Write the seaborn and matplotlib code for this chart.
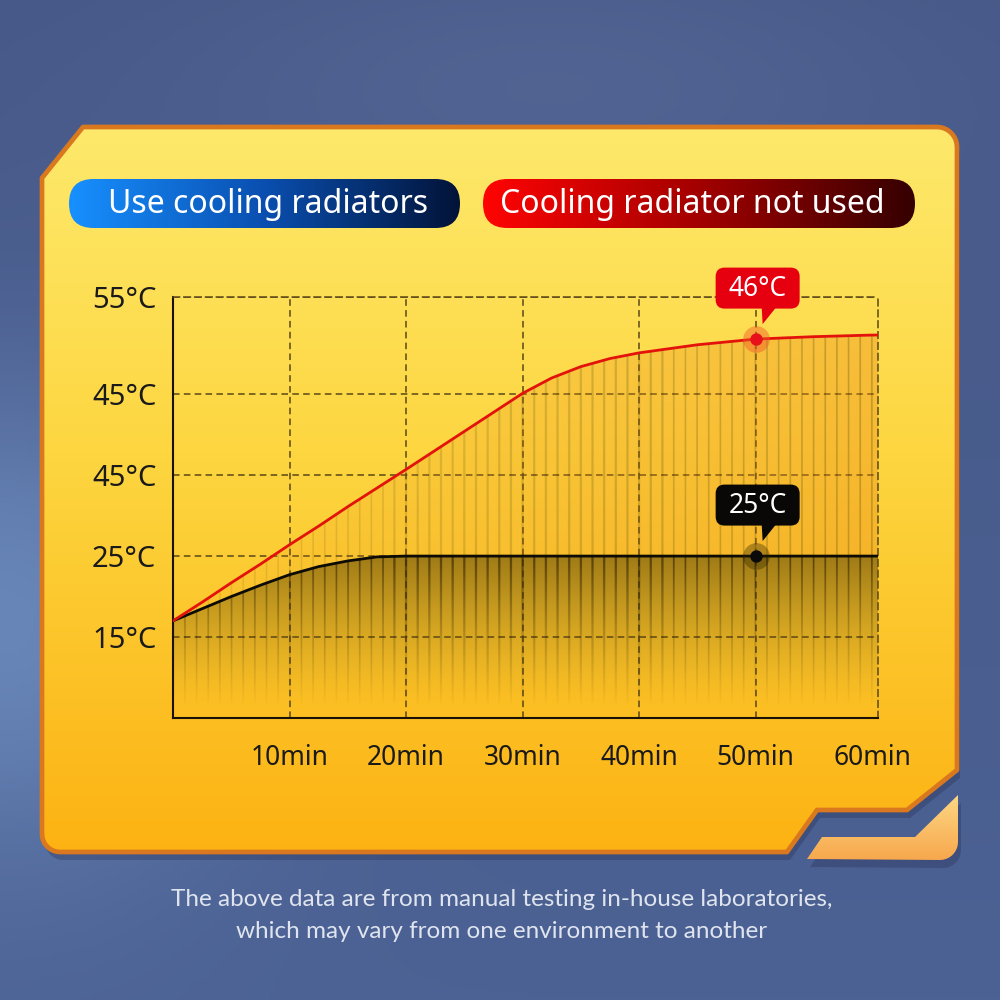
import numpy as np
import matplotlib
matplotlib.use("Agg")
import matplotlib.pyplot as plt
import seaborn as sns
import pandas as pd
from matplotlib.patches import Polygon, FancyBboxPatch
from matplotlib.colors import LinearSegmentedColormap, to_rgb

# ---------------- data ----------------
minutes = [0, 2.5, 5, 7.5, 10, 12.5, 15, 17.5, 20, 25, 30, 32.5, 35, 37.5, 40, 45, 50, 55, 60, 60.5]
with_radiator = [17.0, 18.5, 20.0, 21.4, 22.7, 23.7, 24.4, 24.9, 25.0, 25.0, 25.0, 25.0, 25.0,
                 25.0, 25.0, 25.0, 25.0, 25.0, 25.0, 25.0]
without_radiator = [17.0, 19.3, 21.7, 24.0, 26.4, 28.7, 31.1, 33.4, 35.7, 40.4, 45.1, 47.0, 48.4,
                    49.4, 50.1, 51.1, 51.8, 52.1, 52.3, 52.3]

x_tick_values = [10, 20, 30, 40, 50, 60]
x_tick_labels = ["10min", "20min", "30min", "40min", "50min", "60min"]
y_tick_values = [15, 25, 35, 45, 57]
y_tick_labels = ["15°C", "25°C", "45°C", "45°C", "55°C"]

legend_labels = ["Use cooling radiators", "Cooling radiator not used"]
callout_minute = 50
callout_red_value = 51.8
callout_black_value = 25.0
callout_red_text = "46°C"
callout_black_text = "25°C"
footer_lines = ["The above data are from manual testing in-house laboratories,",
                "which may vary from one environment to another"]

# ---------------- setup ----------------
sns.set_style("white")
plt.rcParams['font.family'] = ['Noto Sans', 'DejaVu Sans']

fig = plt.figure(figsize=(10, 10), dpi=100)

# background axes in pixel coordinates (y down)
bg = fig.add_axes([0, 0, 1, 1], zorder=0)
bg.set_xlim(0, 1000)
bg.set_ylim(1000, 0)
bg.axis('off')

# page background gradient
H, W = 300, 300
yy, xx = np.mgrid[0:1:H * 1j, 0:1:W * 1j]
top = np.array([70, 88, 135]) / 255
bot = np.array([76, 98, 148]) / 255
img = top[None, None, :] * (1 - yy[..., None]) + bot[None, None, :] * yy[..., None]
glow = np.exp(-(((xx - 0.0) ** 2) / 0.06 + ((yy - 0.62) ** 2) / 0.06))
light = np.array([125, 160, 212]) / 255
img = img * (1 - 0.6 * glow[..., None]) + light * 0.6 * glow[..., None]
glow2 = np.exp(-(((xx - 0.55) ** 2) / 0.15 + ((yy - 0.08) ** 2) / 0.02))
img = img * (1 - 0.25 * glow2[..., None]) + np.array([110, 130, 175]) / 255 * 0.25 * glow2[..., None]
bg.imshow(img, extent=[0, 1000, 1000, 0], origin='upper', aspect='auto', zorder=0)


def arc(cx, cy, r, a0, a1, n=10):
    a = np.radians(np.linspace(a0, a1, n))
    return [(cx + r * np.cos(t), cy + r * np.sin(t)) for t in a]


panel_pts = ([(83, 127)] + arc(937, 147, 20, -90, 0) +
             [(957, 770), (907, 810), (817, 810), (787, 852)] +
             arc(60, 834, 18, 90, 180) + [(42, 178)])
tab_pts = ([(807, 859), (822, 837), (915, 837), (958, 795)] +
           arc(940, 842, 18, 0, 90))

# shadows
for pts in (panel_pts, tab_pts):
    sh = Polygon([(x + 3, y + 8) for x, y in pts], closed=True, fc=(0.1, 0.12, 0.25, 0.25),
                 ec='none', zorder=1)
    bg.add_patch(sh)

panel_cmap = LinearSegmentedColormap.from_list(
    'panel', [(0, '#fee96c'), (0.45, '#fdd640'), (1, '#fcb212')])
panel_img = panel_cmap(np.linspace(0, 1, 256))[:, None, :]
panel_patch = Polygon(panel_pts, closed=True, fc='none', ec='none', zorder=2)
bg.add_patch(panel_patch)
im = bg.imshow(panel_img, extent=[40, 960, 855, 125], origin='upper', aspect='auto', zorder=2)
im.set_clip_path(panel_patch)
bg.add_patch(Polygon(panel_pts, closed=True, fc='none', ec='#d9781e', lw=3.4, zorder=3,
                     joinstyle='round'))

tab_cmap = LinearSegmentedColormap.from_list('tab', [(0, '#fdd985'), (1, '#f7a64c')])
tab_patch = Polygon(tab_pts, closed=True, fc='none', ec='none', zorder=2)
bg.add_patch(tab_patch)
im2 = bg.imshow(tab_cmap(np.linspace(0, 1, 64))[:, None, :], extent=[805, 960, 862, 793],
                origin='upper', aspect='auto', zorder=2)
im2.set_clip_path(tab_patch)

# legend pills
pill_specs = [
    (69, 179, 391, 49, ['#1790ff', '#0a4fb0', '#021338'], legend_labels[0], 268),
    (483, 179, 432, 49, ['#ff0404', '#a30000', '#350002'], legend_labels[1], 692),
]
for x0, y0, w, h, cols, label, tx in pill_specs:
    p = FancyBboxPatch((x0, y0), w, h, boxstyle=f"round,pad=0,rounding_size={h / 2}",
                       fc='none', ec='none', zorder=4)
    bg.add_patch(p)
    cm = LinearSegmentedColormap.from_list('pill', cols)
    gi = bg.imshow(cm(np.linspace(0, 1, 256))[None, :, :], extent=[x0, x0 + w, y0 + h, y0],
                   origin='upper', aspect='auto', zorder=4)
    gi.set_clip_path(p)
    bg.text(tx, y0 + h / 2 + 1, label, color='white', fontsize=23,
            ha='center', va='center', zorder=5)

# footer
for i, line in enumerate(footer_lines):
    bg.text(502, 899 + i * 32, line, color='#dfe4ee', fontsize=17.5, ha='center',
            va='center', family=['Lato', 'DejaVu Sans'], zorder=5)

# ---------------- main chart ----------------
ax = fig.add_axes([0.173, 0.282, 0.705, 0.421], zorder=5)
ax.set_facecolor('none')
ax.set_xlim(0, 60.5)
ax.set_ylim(5, 57)

df = pd.DataFrame({'minute': minutes, 'with': with_radiator, 'without': without_radiator})

# gradient + stripe fills
Nx, Ny = 1210, 260
xs = np.linspace(0, 60.5, Nx)
ys = np.linspace(5, 57, Ny)
XX, YY = np.meshgrid(xs, ys)
stripe = (np.abs(((XX + 0.5) % 1.0) - 0.5) < 0.085).astype(float)

# red-area fill (between the lines)
red_poly = ax.fill_between(minutes, with_radiator, without_radiator, color='none', lw=0)
ra = 0.06 + 0.34 * (XX / 60.5)
rgba_r = np.zeros((Ny, Nx, 4))
orange = np.array(to_rgb('#ee8f1a'))
brown = np.array(to_rgb('#8a5a08'))
rgba_r[..., :3] = orange * (1 - stripe[..., None]) + brown * stripe[..., None]
rgba_r[..., 3] = ra + stripe * 0.10
imr = ax.imshow(np.clip(rgba_r, 0, 1), extent=[0, 60.5, 5, 57], origin='lower',
                aspect='auto', zorder=1, interpolation='antialiased')
imr.set_clip_path(red_poly.get_paths()[0], ax.transData)

# black-area fill (under the black line)
blk_poly = ax.fill_between(minutes, 5, with_radiator, color='none', lw=0)
f = np.clip((YY - 6.5) / (25 - 6.5), 0, 1)
rgba_b = np.zeros((Ny, Nx, 4))
dark = np.array(to_rgb('#6a4c06'))
darker = np.array(to_rgb('#3e2c02'))
rgba_b[..., :3] = dark * (1 - stripe[..., None]) + darker * stripe[..., None]
rgba_b[..., 3] = 0.64 * f ** 1.3 + stripe * 0.24 * f ** 0.6
imb = ax.imshow(np.clip(rgba_b, 0, 1), extent=[0, 60.5, 5, 57], origin='lower',
                aspect='auto', zorder=1, interpolation='antialiased')
imb.set_clip_path(blk_poly.get_paths()[0], ax.transData)

# grid
grid_col = '#5a4718'
dash = (0, (4.3, 2.8))
ax.set_xticks(x_tick_values)
ax.set_xticklabels(x_tick_labels)
ax.set_yticks(y_tick_values)
ax.set_yticklabels(y_tick_labels)
ax.grid(True, color=grid_col, linestyle=dash, lw=1.1, zorder=0.5)
ax.xaxis.get_gridlines()[-1].set_visible(False)
ax.set_axisbelow(True)
for s in ('top', 'right'):
    ax.spines[s].set_color(grid_col)
    ax.spines[s].set_linestyle(dash)
    ax.spines[s].set_linewidth(1.1)
for s in ('left', 'bottom'):
    ax.spines[s].set_color('#1a1208')
    ax.spines[s].set_linewidth(1.5)
ax.tick_params(axis='both', length=0, colors='#1a1a1a')
ax.tick_params(axis='y', pad=12, labelsize=21)
ax.tick_params(axis='x', pad=19, labelsize=19)

# lines
sns.lineplot(data=df, x='minute', y='with', ax=ax, color='#0d0b05', lw=2.0, zorder=3)
sns.lineplot(data=df, x='minute', y='without', ax=ax, color='#e3130c', lw=2.0, zorder=3)
ax.set_xlabel('')
ax.set_ylabel('')

# highlight markers
ax.scatter([callout_minute], [callout_red_value], s=370, color='#f05a28', alpha=0.45,
           zorder=4, lw=0)
ax.scatter([callout_minute], [callout_red_value], s=80, color='#e8101a', zorder=5, lw=0)
ax.scatter([callout_minute], [callout_black_value], s=370, color='#2a2200', alpha=0.35,
           zorder=4, lw=0)
ax.scatter([callout_minute], [callout_black_value], s=80, color='#0a0a0a', zorder=5, lw=0)

# callouts (overlay axes in pixel coords)
fg = fig.add_axes([0, 0, 1, 1], zorder=10)
fg.set_xlim(0, 1000)
fg.set_ylim(1000, 0)
fg.axis('off')
fg.patch.set_alpha(0)


def to_px(x, y):
    dx, dy = ax.transData.transform((x, y))
    return dx * 1000 / fig.bbox.width, 1000 - dy * 1000 / fig.bbox.height


for val, txt, col in [(callout_red_value, callout_red_text, '#e6000f'),
                      (callout_black_value, callout_black_text, '#0a0806')]:
    px, py = to_px(callout_minute, val)
    bw, bh = 84, 41
    cx, cy = px + 2, py - 51
    fg.add_patch(FancyBboxPatch((cx - bw / 2, cy - bh / 2), bw, bh,
                                boxstyle="round,pad=0,rounding_size=9", fc=col, ec='none',
                                zorder=1))
    fg.add_patch(Polygon([(px + 6, cy + bh / 2 - 2), (px + 21, cy + bh / 2 - 2),
                          (px + 7, py - 15)], closed=True, fc=col, ec='none', zorder=1))
    fg.text(cx, cy + 1, txt, color='white', fontsize=19, ha='center', va='center', zorder=2)

fig.savefig('out.png', dpi=100)
